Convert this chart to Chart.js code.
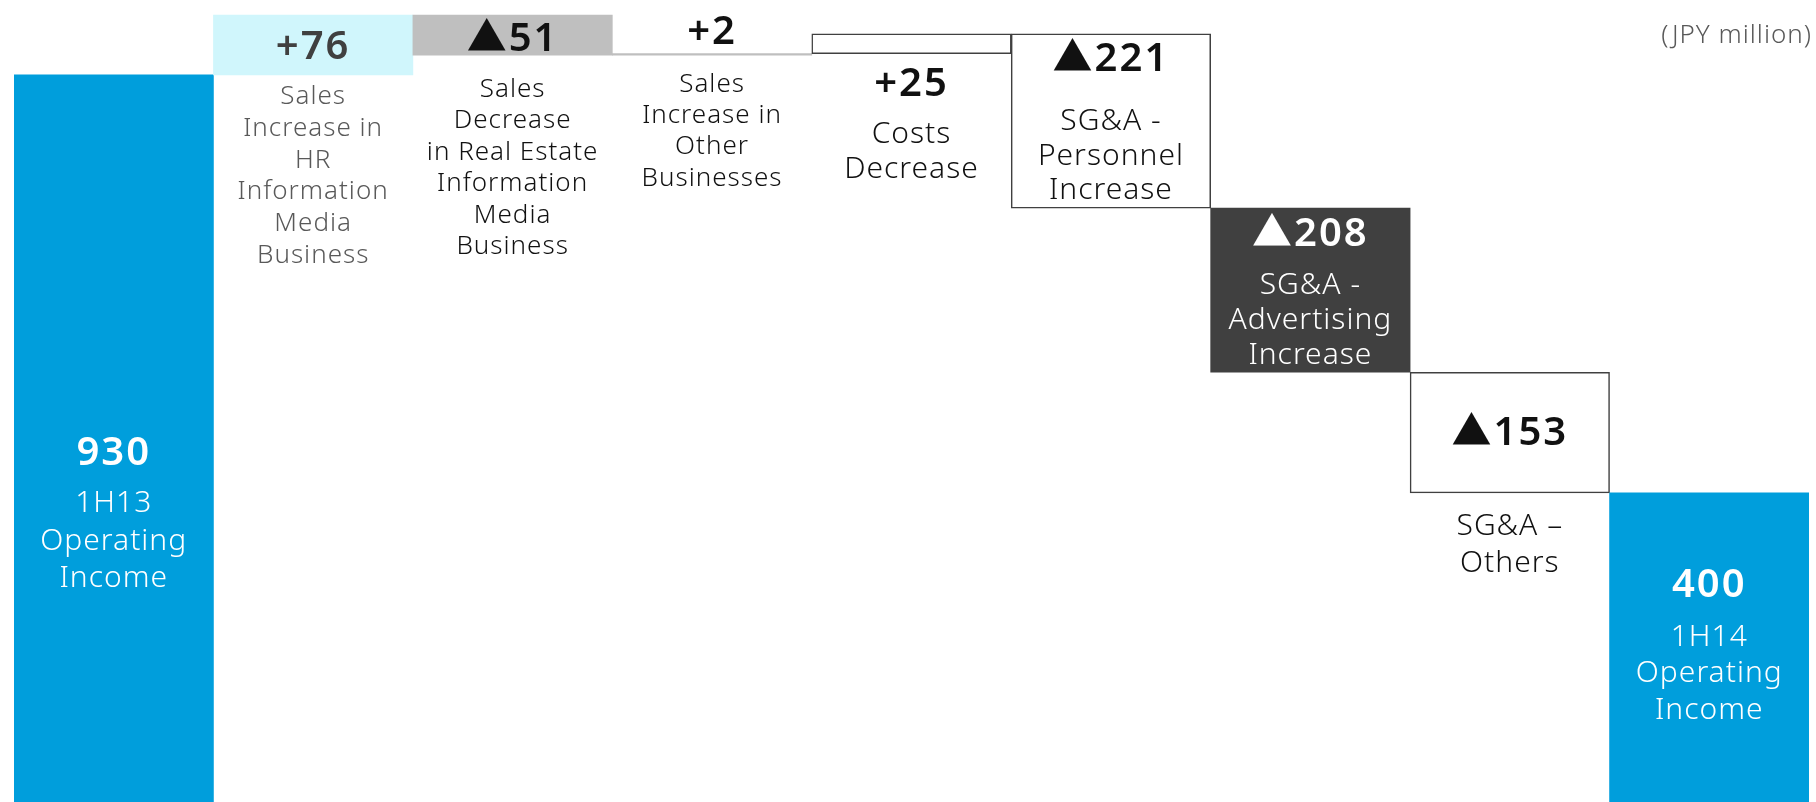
<!DOCTYPE html>
<html>
<head>
<meta charset="utf-8">
<script src="https://cdn.jsdelivr.net/npm/chart.js@4/dist/chart.umd.min.js"></script>
<style>
  html, body { margin: 0; padding: 0; background: #fff; }
</style>
</head>
<body>
<canvas id="bridgeChart" width="1816" height="802"></canvas>
<script>
// Operating income bridge, 1H13 -> 1H14
const categories = [
    ['1H13', 'Operating', 'Income'],
    ['Sales', 'Increase in', 'HR', 'Information', 'Media', 'Business'],
    ['Sales', 'Decrease', 'in Real Estate', 'Information', 'Media', 'Business'],
    ['Sales', 'Increase in', 'Other', 'Businesses'],
    ['Costs', 'Decrease'],
    ['SG&A -', 'Personnel', 'Increase'],
    ['SG&A -', 'Advertising', 'Increase'],
    ['SG&A –', 'Others'],
    ['1H14', 'Operating', 'Income']
];
const changes = [930, 76, -51, 2, 25, -221, -208, -153, 400];
const isTotal = [true, false, false, false, false, false, false, false, true];
const unitLabel = '(JPY million)';

// bar styles
const fills   = ['#009EDC', '#D0F6FC', '#BFBFBF', '#BFBFBF', '#FFFFFF', '#FFFFFF', '#404040', '#FFFFFF', '#009EDC'];
const borders = ['#009EDC', '#D0F6FC', '#BFBFBF', '#BFBFBF', '#404040', '#404040', '#404040', '#404040', '#009EDC'];
const borderW = [0, 0, 0, 0, 1.5, 1.5, 0, 1.5, 0];

// label placement: [anchor, offset px] for the value, [anchor, offset, line step] for the text
const labelLayout = [
    { val: ['top', 376],   desc: ['top', 426, 37.5],    size: 30, color: '#FFFFFF', valColor: '#FFFFFF' },
    { val: ['mid', 0],     desc: ['bottom', 19, 31.7],  size: 26, color: '#595959', valColor: '#404040' },
    { val: ['mid', 1.5],   desc: ['bottom', 31, 31.5],  size: 26, color: '#111111', valColor: '#111111' },
    { val: ['top', -24],   desc: ['bottom', 26, 31.3],  size: 26, color: '#111111', valColor: '#111111' },
    { val: ['bottom', 28], desc: ['bottom', 78, 35],    size: 30, color: '#111111', valColor: '#111111' },
    { val: ['top', 23],    desc: ['top', 84.5, 34.7],   size: 30, color: '#111111', valColor: '#111111' },
    { val: ['top', 23.5],  desc: ['top', 74.5, 34.7],   size: 30, color: '#FFFFFF', valColor: '#FFFFFF' },
    { val: ['mid', -2],    desc: ['bottom', 30.5, 37],  size: 30, color: '#111111', valColor: '#111111' },
    { val: ['top', 89.5],  desc: ['top', 141.5, 36.5],  size: 30, color: '#FFFFFF', valColor: '#FFFFFF' }
];

const FONT = '"Noto Sans", "Noto Sans CJK JP", sans-serif';
const TEXT_SHIFT = 3;   // 'middle' sits a little high for these fonts

// floating ranges for the waterfall
let running = 0;
const ranges = changes.map((v, i) => {
    if (isTotal[i]) {
        running = v;
        return [0, v];
    }
    const r = [running, running + v];
    running += v;
    return r;
});

const valueText = changes.map((v, i) => {
    if (isTotal[i]) return String(v);
    return v >= 0 ? '+' + v : '▲' + Math.abs(v);
});

const bridgeLabels = {
    id: 'bridgeLabels',
    afterDatasetsDraw(chart) {
        const ctx = chart.ctx;
        const bars = chart.getDatasetMeta(0).data;
        ctx.save();
        ctx.textAlign = 'center';
        ctx.textBaseline = 'middle';
        bars.forEach((bar, i) => {
            const top = Math.min(bar.y, bar.base);
            const bottom = Math.max(bar.y, bar.base);
            const at = (a, off) => (a === 'top' ? top : a === 'bottom' ? bottom : (top + bottom) / 2) + off + TEXT_SHIFT;
            const L = labelLayout[i];

            ctx.fillStyle = L.valColor;
            ctx.font = '600 40px ' + FONT;
            ctx.letterSpacing = '2px';
            ctx.fillText(valueText[i], bar.x, at(L.val[0], L.val[1]));

            ctx.fillStyle = L.color;
            ctx.font = '300 ' + L.size + 'px ' + FONT;
            ctx.letterSpacing = '1px';
            let y = at(L.desc[0], L.desc[1]);
            categories[i].forEach(line => {
                ctx.fillText(line, bar.x, y);
                y += L.desc[2];
            });
        });

        ctx.fillStyle = '#595959';
        ctx.textAlign = 'right';
        ctx.font = '300 26px ' + FONT;
        ctx.letterSpacing = '1px';
        ctx.fillText(unitLabel, chart.width - 4, 36);
        ctx.restore();
    }
};

new Chart(document.getElementById('bridgeChart').getContext('2d'), {
    type: 'bar',
    data: {
        labels: categories,
        datasets: [{
            data: ranges,
            backgroundColor: fills,
            borderColor: borders,
            borderWidth: borderW,
            borderSkipped: false,
            barPercentage: 1,
            categoryPercentage: 1
        }]
    },
    options: {
        responsive: false,
        animation: false,
        devicePixelRatio: 1,
        layout: { padding: { left: 14, right: 7, top: 0, bottom: 0 } },
        plugins: {
            legend: { display: false },
            tooltip: { enabled: false }
        },
        scales: {
            x: { display: false },
            y: { display: false, min: 8, max: 1025 }
        }
    },
    plugins: [bridgeLabels]
});
</script>
</body>
</html>
